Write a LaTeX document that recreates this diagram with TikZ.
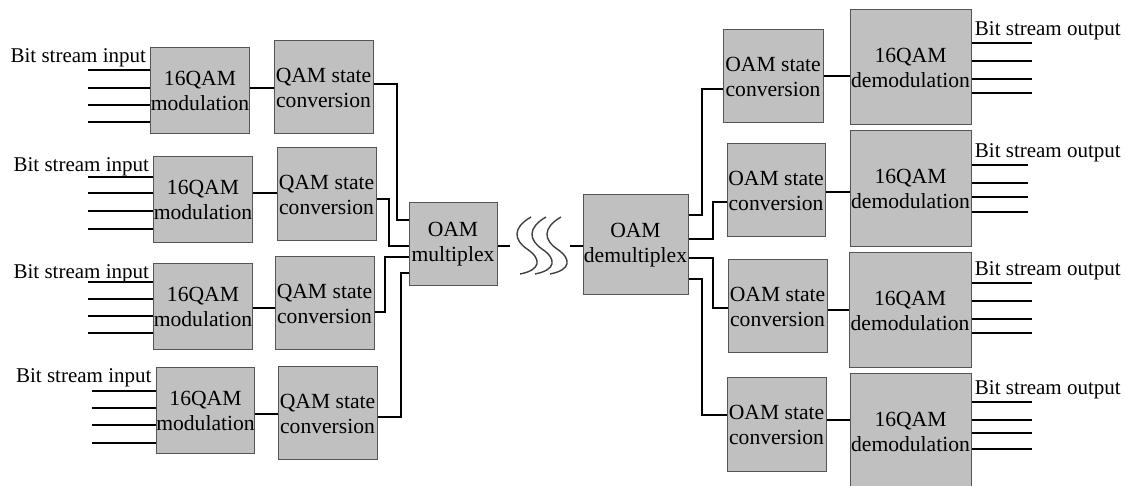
\documentclass[tikz,border=0pt]{standalone}
\usepackage{fontspec}
\setmainfont{Liberation Serif}
\definecolor{boxgray}{HTML}{C0C0C0}
\definecolor{edgegray}{HTML}{555555}
\tikzset{
  blk/.style 2 args={draw=edgegray,fill=boxgray,line width=0.5pt,inner sep=0pt,
    align=center,minimum width=#1*0.5pt,minimum height=#2*0.5pt},
  wire/.style={line width=0.65pt,black},
  wave/.style={line width=0.7pt,black!75},
  lbl/.style={inner sep=0pt,font=\fontsize{10.5}{12.5}\selectfont},
}
\begin{document}
\begin{tikzpicture}[x=0.5pt,y=-0.5pt,font=\fontsize{10.8}{12.5}\selectfont]
  \useasboundingbox (0,0) rectangle (1126,486);
  %% transmitter side
  \node[blk={96}{86}] (m1) at (200,91) {16QAM\\modulation};
  \node[blk={98}{86}] (m2) at (203,200) {16QAM\\modulation};
  \node[blk={98}{86}] (m3) at (203,307) {16QAM\\modulation};
  \node[blk={97}{86}] (m4) at (205.5,411) {16QAM\\modulation};
  \node[blk={99}{93}] (q1) at (323.5,87.5) {QAM state\\conversion};
  \node[blk={99}{93}] (q2) at (326.5,194.5) {QAM state\\conversion};
  \node[blk={99}{93}] (q3) at (324.5,303.5) {QAM state\\conversion};
  \node[blk={99}{93}] (q4) at (327.5,413.5) {QAM state\\conversion};
  \node[blk={88}{83}] (mux) at (453,244.5) {OAM\\multiplex};
  %% receiver side
  \node[blk={105}{100}] (demux) at (635.5,245) {OAM\\demultiplex};
  \node[blk={100}{93}] (o1) at (773,76.5) {OAM state\\conversion};
  \node[blk={98}{93}] (o2) at (776,190.5) {OAM state\\conversion};
  \node[blk={99}{93}] (o3) at (777.5,306.5) {OAM state\\conversion};
  \node[blk={99}{94}] (o4) at (776.5,425) {OAM state\\conversion};
  \node[blk={121}{115}] (d1) at (910.5,67.5) {16QAM\\demodulation};
  \node[blk={121}{116}] (d2) at (910.5,189) {16QAM\\demodulation};
  \node[blk={122}{115}] (d3) at (910,310.5) {16QAM\\demodulation};
  \node[blk={121}{116}] (d4) at (910.5,432) {16QAM\\demodulation};
  %% bit stream inputs
  \foreach \n/\ys/\xs in {1/{70,88,105,122}/88,2/{177,193,211,229}/88,
                          3/{282,299,316,333}/88,4/{391,408,425,443}/92}{
    \foreach \y in \ys \draw[wire] (\xs,\y) -- (m\n.west |- 0,\y);
    \node[lbl,anchor=base east] (in\n) at ([xshift=-2pt,yshift=-7.5pt]m\n.north west) {Bit stream input};
  }
  %% bit stream outputs
  \foreach \n/\ys/\xe in {1/{43,61,79,93}/1032,2/{165,183,197,212}/1028,
                          3/{283,301,319,333}/1032,4/{402,420,433,449}/1032}{
    \foreach \y [count=\i] in \ys {
      \draw[wire] (d\n.east |- 0,\y) -- (\xe,\y);
      \ifnum\i=1 \node[lbl,anchor=base west] (out\n) at ([xshift=1.5pt,yshift=3.5pt]d\n.east |- 0,\y) {Bit stream output};\fi
    }
  }
  %% modulation -> state conversion
  \foreach \n/\y in {1/88,2/193,3/308,4/414}
    \draw[wire] (m\n.east |- 0,\y) -- (q\n.west |- 0,\y);
  %% state conversion -> multiplex
  \draw[wire] (q1.east |- 0,84) -| (397,220) -- (mux.west |- 0,220);
  \draw[wire] (q2.east |- 0,199) -| (389,246) -- (mux.west |- 0,246);
  \draw[wire] (q3.east |- 0,312) -| (385,257) -- (mux.west |- 0,257);
  \draw[wire] (q4.east |- 0,417) -| (401,273) -- (mux.west |- 0,273);
  %% free space link
  \coordinate (wl) at (510,246);
  \coordinate (wr) at (570,246);
  \draw[wire] (mux.east |- wl) -- (wl);
  \draw[wire] (wr) -- (demux.west |- wr);
  \foreach \s in {0,15,30}
    \draw[wave] (531+\s,217) .. controls (512+\s,228) and (514+\s,240) .. (527+\s,249)
                .. controls (542+\s,259) and (541+\s,270) .. (520+\s,274);
  %% demultiplex -> state conversion
  \draw[wire] (demux.east |- 0,215) -| (702,89) -- (o1.west |- 0,89);
  \draw[wire] (demux.east |- 0,239) -| (713,202) -- (o2.west |- 0,202);
  \draw[wire] (demux.east |- 0,258) -| (713,308) -- (o3.west |- 0,308);
  \draw[wire] (demux.east |- 0,279) -| (702,415) -- (o4.west |- 0,415);
  %% state conversion -> demodulation
  \foreach \n/\y in {1/76,2/192,3/310,4/420}
    \draw[wire] (o\n.east |- 0,\y) -- (d\n.west |- 0,\y);
\end{tikzpicture}
\end{document}
